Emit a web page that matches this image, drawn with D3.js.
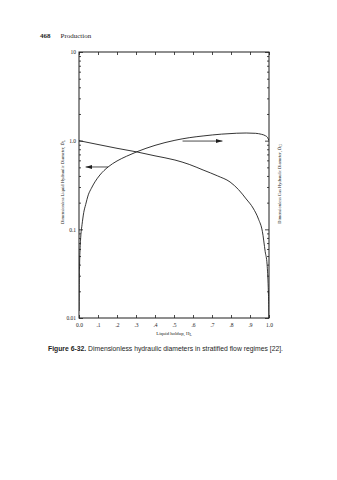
<!DOCTYPE html>
<html>
<head>
<meta charset="utf-8">
<script src="https://cdn.jsdelivr.net/npm/d3@7"></script>
<style>
  html, body { margin: 0; padding: 0; background: #fff; }
  svg { display: block; }
</style>
</head>
<body>
<svg id="chart" width="337" height="480"></svg>
<script>
// Liquid holdup, H_L (x) and dimensionless hydraulic diameters (log y)
const liquidHoldup = [0.0005, 0.001, 0.003, 0.006, 0.01, 0.016, 0.025, 0.035, 0.049, 0.065, 0.084, 0.11, 0.153, 0.2, 0.25, 0.305, 0.4, 0.505, 0.58, 0.653, 0.75, 0.83, 0.88, 0.93, 0.96, 0.98, 0.993, 1.0];
const liquidDiameter = [0.012, 0.019, 0.039, 0.062, 0.087, 0.113, 0.155, 0.19, 0.245, 0.29, 0.343, 0.41, 0.505, 0.59, 0.667, 0.75, 0.885, 1.01, 1.08, 1.13, 1.185, 1.213, 1.22, 1.21, 1.18, 1.14, 1.08, 1.0];

const gasHoldup = [0, 0.1, 0.2, 0.305, 0.4, 0.505, 0.58, 0.653, 0.73, 0.795, 0.84, 0.88, 0.916, 0.945, 0.965, 0.98, 0.99, 0.996, 0.999, 1.0];
const gasDiameter = [1.0, 0.905, 0.82, 0.746, 0.674, 0.605, 0.54, 0.467, 0.4, 0.342, 0.28, 0.22, 0.174, 0.13, 0.095, 0.056, 0.04, 0.022, 0.013, 0.01];

const xTickValues = [0, 0.1, 0.2, 0.3, 0.4, 0.5, 0.6, 0.7, 0.8, 0.9, 1.0];
const xTickLabels = ["0.0", ".1", ".2", ".3", ".4", ".5", ".6", ".7", ".8", ".9", "1.0"];
const yTickValues = [0.01, 0.1, 1, 10];
const yTickLabels = ["0.01", "0.1", "1.0", "10"];

// Arrow annotations: [y value, x start, x end]
const liquidArrow = [0.505, 0.153, 0.035];
const gasArrow = [0.99, 0.545, 0.755];

const ink = "#1e1e1e";
const serif = "'Liberation Serif', 'DejaVu Serif', serif";
const sans = "'Liberation Sans', Arial, sans-serif";

const svg = d3.select("#chart");
const plot = { left: 79, right: 269, top: 52, bottom: 318 };

const x = d3.scaleLinear().domain([0, 1]).range([plot.left, plot.right]);
const y = d3.scaleLog().domain([0.01, 10]).range([plot.bottom, plot.top]);

// Running head
const head = svg.append("text")
  .attr("x", 40).attr("y", 38)
  .attr("font-family", serif).attr("font-size", 7).attr("fill", ink);
head.append("tspan").attr("font-weight", "bold").text("468");
head.append("tspan").attr("dx", 10).text("Production");

// Frame
svg.append("rect")
  .attr("x", plot.left).attr("y", plot.top)
  .attr("width", plot.right - plot.left).attr("height", plot.bottom - plot.top)
  .attr("fill", "none").attr("stroke", ink).attr("stroke-width", 1);

// Log minor/major tick positions
const logTicks = [];
for (let e = -2; e < 1; e++) {
  for (let m = 1; m < 10; m++) logTicks.push(m * Math.pow(10, e));
}
logTicks.push(10);
const isDecade = d => yTickValues.some(v => Math.abs(v - d) < 1e-9);

// Bottom axis (ticks inside)
const xBottom = d3.axisBottom(x).tickValues(xTickValues)
  .tickSize(-3).tickPadding(5)
  .tickFormat((d, i) => xTickLabels[i]);
const gB = svg.append("g").attr("transform", `translate(0,${plot.bottom})`).call(xBottom);
// Top axis, ticks only
const xTop = d3.axisTop(x).tickValues(xTickValues).tickSize(-3).tickFormat("");
const gT = svg.append("g").attr("transform", `translate(0,${plot.top})`).call(xTop);

// Left axis: minor ticks plus labelled decades
const yLeft = d3.axisLeft(y).tickValues(logTicks)
  .tickSize(-2).tickPadding(3)
  .tickFormat(d => {
    const i = yTickValues.findIndex(v => Math.abs(v - d) < 1e-9);
    return i >= 0 ? yTickLabels[i] : "";
  });
const gL = svg.append("g").attr("transform", `translate(${plot.left},0)`).call(yLeft);
gL.selectAll(".tick line").filter(isDecade).attr("x2", 4);

// Right axis, ticks only
const yRight = d3.axisRight(y).tickValues(logTicks).tickSize(-2).tickFormat("");
const gR = svg.append("g").attr("transform", `translate(${plot.right},0)`).call(yRight);
gR.selectAll(".tick line").filter(isDecade).attr("x2", -4);

[gB, gT, gL, gR].forEach(g => {
  g.select(".domain").remove();
  g.selectAll(".tick line").attr("stroke", ink).attr("stroke-width", 0.8);
  g.selectAll(".tick text").attr("fill", ink).attr("font-family", serif).attr("font-size", 5.5);
});

// Axis titles
svg.append("text")
  .attr("x", x(0.5)).attr("y", 335)
  .attr("text-anchor", "middle")
  .attr("font-family", serif).attr("font-size", 4.8).attr("fill", ink)
  .call(t => {
    t.append("tspan").text("Liquid holdup, H");
    t.append("tspan").attr("font-size", 3.8).attr("dy", 1.2).text("L");
  });

svg.append("text")
  .attr("transform", "translate(64,182) rotate(-90)")
  .attr("text-anchor", "middle")
  .attr("font-family", serif).attr("font-size", 4.5).attr("fill", ink)
  .call(t => {
    t.append("tspan").text("Dimensionless Liquid Hydraulic Diameter, D\u0303");
    t.append("tspan").attr("font-size", 3.6).attr("dy", 1.2).text("L");
  });

svg.append("text")
  .attr("transform", "translate(281,184) rotate(-90)")
  .attr("text-anchor", "middle")
  .attr("font-family", serif).attr("font-size", 4.5).attr("fill", ink)
  .call(t => {
    t.append("tspan").text("Dimensionless Gas Hydraulic Diameter, D\u0303");
    t.append("tspan").attr("font-size", 3.6).attr("dy", 1.2).text("G");
  });

// Curves
svg.append("clipPath").attr("id", "plotClip")
  .append("rect").attr("x", plot.left).attr("y", plot.top)
  .attr("width", plot.right - plot.left).attr("height", plot.bottom - plot.top);

const line = d3.line().x(d => x(d[0])).y(d => y(d[1])).curve(d3.curveMonotoneX);

const curves = svg.append("g").attr("clip-path", "url(#plotClip)");
curves.append("path")
  .datum(d3.zip(liquidHoldup, liquidDiameter))
  .attr("d", line).attr("fill", "none").attr("stroke", ink).attr("stroke-width", 0.9);
curves.append("path")
  .datum(d3.zip(gasHoldup, gasDiameter))
  .attr("d", line).attr("fill", "none").attr("stroke", ink).attr("stroke-width", 0.9);

// Arrows
svg.append("defs").append("marker")
  .attr("id", "head").attr("viewBox", "0 0 10 6")
  .attr("refX", 10).attr("refY", 3)
  .attr("markerWidth", 7).attr("markerHeight", 4).attr("markerUnits", "userSpaceOnUse")
  .attr("orient", "auto")
  .append("path").attr("d", "M0,0 L10,3 L0,6 Z").attr("fill", ink);

[liquidArrow, gasArrow].forEach(([v, x0, x1]) => {
  svg.append("line")
    .attr("x1", x(x0)).attr("x2", x(x1))
    .attr("y1", y(v)).attr("y2", y(v))
    .attr("stroke", ink).attr("stroke-width", 0.8)
    .attr("marker-end", "url(#head)");
});

// Caption
const cap = svg.append("text")
  .attr("x", 48).attr("y", 351)
  .attr("font-family", sans).attr("font-size", 6.8).attr("fill", ink);
cap.append("tspan").attr("font-weight", "bold").text("Figure 6-32.");
cap.append("tspan").text(" Dimensionless hydraulic diameters in stratified flow regimes [22].");
</script>
</body>
</html>
